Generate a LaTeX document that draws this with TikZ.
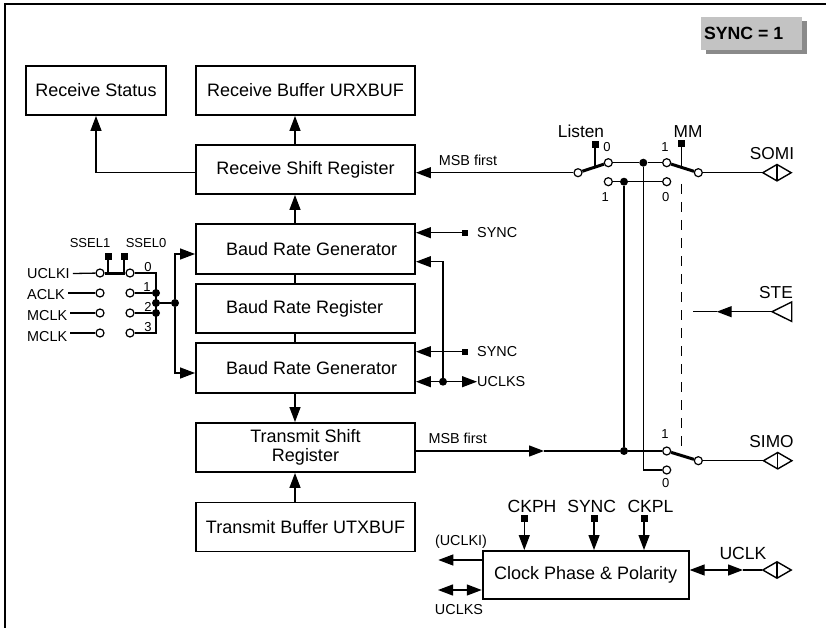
\documentclass[tikz,border=0pt]{standalone}
\usepackage{fontspec}
\setmainfont{Liberation Sans}
\usetikzlibrary{arrows.meta,shapes.geometric}
\definecolor{boxgray}{HTML}{C3C3C3}
\definecolor{shadowgray}{HTML}{8A8A8A}
\newcommand{\fsz}[1]{\fontsize{#1}{#1}\selectfont}
\begin{document}
\begin{tikzpicture}[x=1pt,y=-1pt,
  >={Triangle[length=15pt,width=11pt]},
  conn/.style={line width=1.3pt},
  blk/.style={draw, line width=1.9pt, minimum width=219pt, minimum height=49pt, inner sep=0pt, font=\fontsize{18}{19}\selectfont},
  contact/.style={circle, draw, fill=white, line width=1.2pt, minimum size=8pt, inner sep=0pt},
  jdot/.style={circle, fill=black, minimum size=8pt, inner sep=0pt},
  sqr/.style={rectangle, fill=black, minimum size=7pt, inner sep=0pt},
  sqs/.style={rectangle, fill=black, minimum size=6pt, inner sep=0pt},
  swline/.style={line width=3pt},
  lblS/.style={inner sep=0pt, font=\fsz{14.4}},
  lblT/.style={inner sep=0pt, font=\fsz{13}},
  lblM/.style={inner sep=0pt, font=\fsz{17.3}},
  bidi/.style={diamond, draw, line width=1.4pt, minimum width=29pt, minimum height=17pt, inner sep=0pt,
    path picture={\draw[line width=1.4pt] (path picture bounding box.north) -- (path picture bounding box.south);}}
]
\useasboundingbox (0,0) rectangle (826,628);
% frame
\draw[line width=2pt] (5,628) -- (5,4) -- (826,4);
% SYNC = 1 badge
\node[fill=shadowgray, minimum width=101pt, minimum height=33pt, inner sep=0pt] (shd) at (756.5,38) {};
\node[fill=boxgray, minimum width=101pt, minimum height=33pt, inner sep=0pt, font=\fsz{17.7}\bfseries] (syncbox) at (751.5,33.5) {\makebox[95pt][l]{SYNC = 1}};

% main blocks
\node[blk, minimum width=140pt] (rstat) at (96,90.5) {Receive Status};
\node[blk] (rbuf) at (305.5,90.5) {Receive Buffer URXBUF};
\node[blk] (rsr) at (305.5,169.5) {Receive Shift Register};
\node[blk, minimum height=50pt] (brg1) at (305.5,249) {\makebox[159pt][l]{Baud Rate Generator}};
\node[blk] (brr) at (305.5,308.5) {\makebox[159pt][l]{Baud Rate Register}};
\node[blk, minimum height=50pt] (brg2) at (305.5,368) {\makebox[159pt][l]{Baud Rate Generator}};
\node[blk, align=center] (tsr) at (305.5,447.5) {Transmit Shift\\Register};
\node[blk] (tbuf) at (305.5,527) {Transmit Buffer UTXBUF};
\node[blk, minimum width=206pt, minimum height=48pt] (cpp) at (585.7,575) {Clock Phase \& Polarity};

% vertical spine
\coordinate (sp) at (295,0);
\draw[conn,->] (brg1.north -| sp) -- (rsr.south -| sp);
\draw[conn,->] (rsr.north -| sp) -- (rbuf.south -| sp);
\draw[conn] (brg1.south -| sp) -- (brr.north -| sp);
\draw[conn] (brr.south -| sp) -- (brg2.north -| sp);
\draw[conn,->] (brg2.south -| sp) -- (tsr.north -| sp);
\draw[conn,->] (tbuf.north -| sp) -- (tsr.south -| sp);

% clock select
\node[lblS, anchor=west, inner xsep=3pt] (tuclki) at (24,274) {UCLKI};
\node[lblS, anchor=west, inner xsep=3pt] (taclk) at (24,295) {ACLK};
\node[lblS, anchor=west, inner xsep=3pt] (tmclka) at (24,316) {MCLK};
\node[lblS, anchor=west, inner xsep=3pt] (tmclkb) at (24,337) {MCLK};
\node[contact] (a0) at (100,273) {};
\node[contact] (a1) at (100,293) {};
\node[contact] (a2) at (100,313) {};
\node[contact] (a3) at (100,333) {};
\node[contact] (b0) at (130,273) {};
\node[contact] (b1) at (130,293) {};
\node[contact] (b2) at (130,313) {};
\node[contact] (b3) at (130,333) {};
\draw[conn] (tuclki) -- (a0);
\draw[conn] (taclk.east |- a1) -- (a1);
\draw[conn] (tmclka.east |- a2) -- (a2);
\draw[conn] (tmclkb.east |- a3) -- (a3);
\draw[swline] (a0) -- (b0);
\node[sqr] (ss1) at (108,256) {};
\node[sqr] (ss0) at (124,256) {};
\draw[conn] (ss1) -- (ss1 |- a0);
\draw[conn] (ss0) -- (ss0 |- a0);
\node[lblT] (tss1) at (90,243) {SSEL1};
\node[lblT] (tss0) at (146,243) {SSEL0};
\coordinate (bus0) at (156,273);
\coordinate (bus3) at (156,333);
\draw[conn] (b0) -- (bus0) -- (bus3) -- (b3);
\node[jdot] (d1) at (156,293) {};
\node[jdot] (d2) at (156,313) {};
\node[jdot] (dm) at (156,303) {};
\draw[conn] (b1) -- (d1);
\draw[conn] (b2) -- (d2);
\node[jdot] (dsel) at (175,303) {};
\draw[conn] (dm) -- (dsel);
\coordinate (selt) at (175,254);
\coordinate (selb) at (175,373);
\draw[conn,->] (dsel) -- (selt) -- (selt -| brg1.west);
\draw[conn,->] (dsel) -- (selb) -- (selb -| brg2.west);
\node[lblT] (n0) at (148,267) {0};
\node[lblT] (n1) at (147,287) {1};
\node[lblT] (n2) at (148,306.5) {2};
\node[lblT] (n3) at (148,327) {3};

% BRG right side
\node[sqs] (sy1) at (465,232.7) {};
\node[lblS, anchor=west] (tsy1) at (477,232.7) {SYNC};
\draw[conn,->] (sy1) -- (sy1 -| brg1.east);
\node[sqs] (sy2) at (465,351.7) {};
\node[lblS, anchor=west] (tsy2) at (477,351.7) {SYNC};
\draw[conn,->] (sy2) -- (sy2 -| brg2.east);
\node[jdot] (du) at (443,381.7) {};
\coordinate (ut) at (443,261.7);
\draw[conn,->] (du) -- (ut) -- (ut -| brg1.east);
\draw[conn,->] (du) -- (du -| brg2.east);
\node[lblS, anchor=west] (tuclks1) at (477,381.7) {UCLKS};
\draw[conn,->] (du) -- (tuclks1.west);

% Listen switch
\node[contact] (lL) at (578,172.7) {};
\node[contact] (lU) at (608.3,162.7) {};
\node[contact] (lD) at (608.3,181.7) {};
\draw[swline] (lL) -- (lU);
\node[sqr] (qL) at (595,144.3) {};
\coordinate (qLe) at (595,167.5);
\draw[conn] (qL) -- (qLe);
\node[lblM] (tlisten) at (581,131.7) {Listen};
\node[lblT] (l0) at (607,146.7) {0};
\node[lblT] (l1) at (605.3,196.7) {1};
\draw[conn,->] (lL) -- (lL -| rsr.east);
\node[lblS] (msb1) at (468,160.7) {MSB first};
\draw[conn,->] (rsr.west |- lL) -| (rstat.south);

% MM switch
\node[contact] (mU) at (666.7,162.7) {};
\node[contact] (mD) at (666.7,181.7) {};
\node[contact] (mO) at (698.3,172.7) {};
\draw[swline] (mU) -- (mO);
\node[sqr] (qM) at (681.7,143.3) {};
\coordinate (qMe) at (681.7,168);
\draw[conn] (qM) -- (qMe);
\node[lblM] (tmm) at (688,131.7) {MM};
\node[lblT] (m1) at (665,146.7) {1};
\node[lblT] (m0) at (665.7,196.7) {0};
\node[jdot] (jU) at (643.3,162.7) {};
\node[jdot] (jD) at (624,181.7) {};
\draw[conn] (lU) -- (jU) -- (mU);
\draw[conn] (lD) -- (jD) -- (mD);
\node[bidi] (somi) at (777,172.7) {};
\draw[conn] (mO) -- (somi.west);
\node[lblM] (tsomi) at (772,153.3) {SOMI};

% SIMO switch
\node[contact] (sU) at (666.7,451) {};
\node[contact] (sD) at (666.7,470) {};
\node[contact] (sO) at (698.3,460.7) {};
\draw[swline] (sU) -- (sO);
\node[lblT] (s1) at (665,434) {1};
\node[lblT] (s0) at (665.7,483.3) {0};
\node[jdot] (jT) at (624,451) {};
\draw[conn] (jD) -- (jT);
\coordinate (cL) at (643.3,470);
\draw[conn] (jU) -- (cL) -- (sD);
\coordinate (tarr) at (544,451);
\draw[conn,->] (sU -| tsr.east) -- (tarr);
\draw[conn] (tarr) -- (jT) -- (sU);
\node[lblS] (msb2) at (457.7,438.3) {MSB first};
\coordinate (dashA) at (681.7,184);
\coordinate (dashB) at (681.7,455);
\draw[conn, dash pattern=on 10pt off 8pt] (dashA) -- (dashB);
\node[bidi] (simo) at (777.7,460.7) {};
\draw[conn] (sO) -- (simo.west);
\node[lblM] (tsimo) at (771.5,441.7) {SIMO};

% STE
\coordinate (ste) at (772,311.7);
\coordinate (steA) at (791.7,302);
\coordinate (steB) at (791.7,321.4);
\draw[line width=1.4pt] (ste) -- (steA) -- (steB) -- cycle;
\coordinate (stearr) at (716.7,311.7);
\coordinate (steend) at (692.7,311.7);
\draw[conn,->] (ste) -- (stearr);
\draw[conn] (stearr) -- (steend);
\node[lblM] (tste) at (776,293) {STE};

% clock phase & polarity
\node[sqr] (qh) at (524.3,518.3) {};
\node[sqr] (qs) at (594,518.3) {};
\node[sqr] (ql) at (644,518.3) {};
\draw[conn,->] (qh) -- (qh |- cpp.north);
\draw[conn,->] (qs) -- (qs |- cpp.north);
\draw[conn,->] (ql) -- (ql |- cpp.north);
\node[lblM, font=\fsz{17.6}] (tckph) at (532,506.7) {CKPH};
\node[lblM, font=\fsz{17.6}] (tsync) at (591.7,506.7) {SYNC};
\node[lblM, font=\fsz{17.6}] (tckpl) at (650.5,506.7) {CKPL};
\coordinate (ucki) at (438.3,560);
\draw[conn,->] (cpp.west |- ucki) -- (ucki);
\node[lblS] (tuclki2) at (461,541.7) {(UCLKI)};
\coordinate (ucks) at (438,590);
\draw[conn,<->] (ucks) -- (ucks -| cpp.west);
\node[lblS] (tuclks2) at (459,610) {UCLKS};
\node[bidi] (uclk) at (777,570) {};
\coordinate (uclkarr) at (743,570);
\draw[conn,<->] (cpp.east |- uclkarr) -- (uclkarr);
\draw[conn] (uclkarr) -- (uclk.west);
\node[lblM, font=\fsz{17.6}] (tuclk) at (743,553.3) {UCLK};
\end{tikzpicture}
\end{document}
